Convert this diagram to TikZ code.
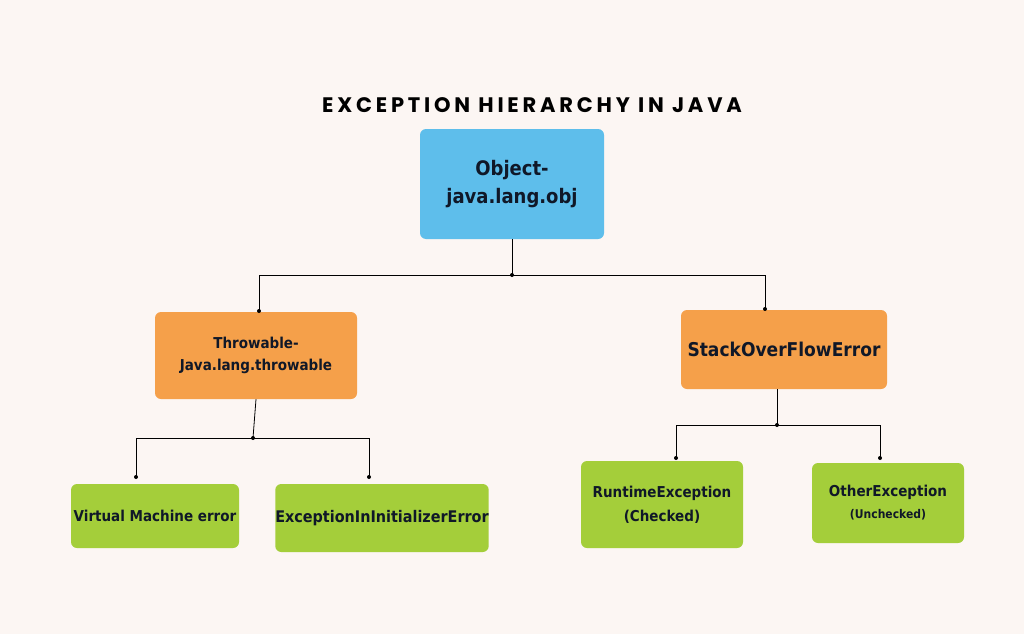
\documentclass[tikz,border=0pt]{standalone}
\usepackage{fontspec}
\setmainfont{DejaVu Sans}
\newfontfamily\titlefont[LetterSpace=18]{Poppins}
\newfontfamily\boxfont{DejaVu Sans Condensed}
\definecolor{bg}{HTML}{FCF6F3}
\definecolor{cblue}{HTML}{5EBEEB}
\definecolor{corange}{HTML}{F5A04A}
\definecolor{cgreen}{HTML}{A4CE3A}
\definecolor{ctext}{HTML}{101828}
\begin{document}
\begin{tikzpicture}[x=1pt,y=-1pt,
  box/.style={rounded corners=6pt,inner sep=0pt,align=center,text=ctext,font=\boxfont\bfseries},
  ln/.style={line width=0.8pt},
  dot/.style={circle,fill=black,inner sep=0pt,minimum size=4pt}]
\fill[bg] (0,0) rectangle (1024,634);
\useasboundingbox (0,0) rectangle (1024,634);
\node[font=\titlefont\fontsize{21}{24}\selectfont\bfseries] (title) at (532,105) {EXCEPTION HIERARCHY IN JAVA};
\node[box,fill=cblue,minimum width=184pt,minimum height=110pt,font=\boxfont\bfseries\fontsize{20}{28}\selectfont] (obj) at (512,184) {Object-\\java.lang.obj};
\node[box,fill=corange,minimum width=202pt,minimum height=87pt,font=\boxfont\bfseries\fontsize{15}{22}\selectfont] (thr) at (256,355.5) {Throwable-\\Java.lang.throwable};
\node[box,fill=corange,minimum width=206pt,minimum height=79pt,font=\boxfont\bfseries\fontsize{19}{22}\selectfont] (so) at (784,349.5) {StackOverFlowError};
\node[box,fill=cgreen,minimum width=168pt,minimum height=64pt,font=\boxfont\bfseries\fontsize{15}{20}\selectfont] (vm) at (155,516) {Virtual Machine error};
\node[box,fill=cgreen,minimum width=210pt,minimum height=68pt,font=\boxfont\bfseries\fontsize{16}{20}\selectfont] (eie) at (382,518) {ExceptionInInitializerError};
\node[box,fill=cgreen,minimum width=162pt,minimum height=87pt,font=\boxfont\bfseries\fontsize{15}{24}\selectfont] (rt) at (662,504.5) {RuntimeException\\(Checked)};
\node[box,fill=cgreen,minimum width=152pt,minimum height=80pt,font=\boxfont\bfseries\fontsize{15}{22}\selectfont] (oe) at (888,503) {OtherException\\{\fontsize{12}{22}\selectfont(Unchecked)}};
% connectors
\coordinate (j1) at (512,275);
\coordinate (l1) at (259,275); \coordinate (r1) at (765,275);
\coordinate (e1) at (259,311); \coordinate (e2) at (765,309);
\draw[ln] (obj.south) -- (j1);
\draw[ln] (l1) -- (r1);
\draw[ln] (l1) -- (e1); \draw[ln] (r1) -- (e2);
\node[dot] (d1) at (j1) {}; \node[dot] (d2) at (e1) {}; \node[dot] (d3) at (e2) {};
\coordinate (j2) at (253,438);
\coordinate (l2) at (136,438); \coordinate (r2) at (369,438);
\coordinate (e3) at (136,477); \coordinate (e4) at (369,477);
\draw[ln] (thr.south) -- (j2);
\draw[ln] (l2) -- (r2) (l2) -- (e3) (r2) -- (e4);
\node[dot] (d4) at (j2) {}; \node[dot] (d5) at (e3) {}; \node[dot] (d6) at (e4) {};
\coordinate (j3) at (777,425);
\coordinate (l3) at (676,425); \coordinate (r3) at (880,425);
\coordinate (e5) at (676,458); \coordinate (e6) at (880,458);
\draw[ln] (777,389) -- (j3);
\draw[ln] (l3) -- (r3) (l3) -- (e5) (r3) -- (e6);
\node[dot] (d7) at (j3) {}; \node[dot] (d8) at (e5) {}; \node[dot] (d9) at (e6) {};
\end{tikzpicture}
\end{document}
